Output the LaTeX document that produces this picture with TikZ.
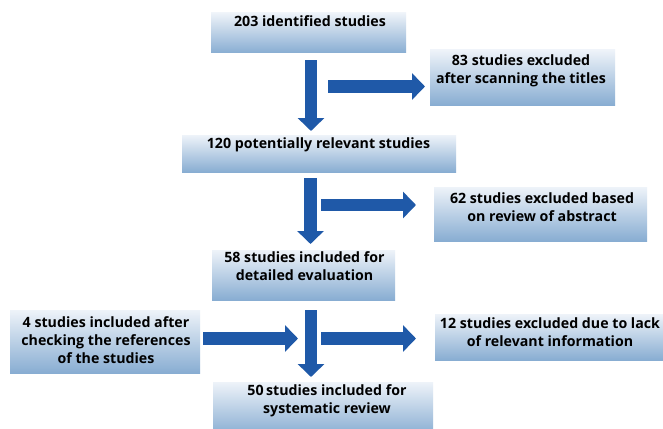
\documentclass[tikz,border=0pt]{standalone}
\usepackage{fontspec}
\setmainfont{Open Sans}
\usetikzlibrary{arrows.meta}
\definecolor{arrowblue}{RGB}{31,89,168}
\definecolor{boxtop}{RGB}{238,243,249}
\definecolor{boxbot}{RGB}{136,173,210}
\tikzset{
  flowbox/.style={rectangle, inner sep=0pt, top color=boxtop, bottom color=boxbot, draw=none},
  flowtxt/.style={inner sep=0pt, align=center, font=\fontsize{14.2}{18}\selectfont\bfseries, text=black},
  bigarrow/.style={draw=arrowblue, line width=12.5pt, -{Triangle[length=13pt,width=26pt]}}
}
\begin{document}
\begin{tikzpicture}[x=1pt,y=-1pt]
\useasboundingbox (0,0) rectangle (663,428);
\fill[white] (0,0) rectangle (663,428);
% boxes
\node[flowbox, minimum width=195pt, minimum height=40pt] (b1) at (308.5,33) {};
\node[flowbox, minimum width=185pt, minimum height=55pt] (b2) at (522.5,77.5) {};
\node[flowbox, minimum width=274pt, minimum height=37pt] (b3) at (319,153.5) {};
\node[flowbox, minimum width=213pt, minimum height=54pt] (b4) at (540.5,214) {};
\node[flowbox, minimum width=183pt, minimum height=50pt] (b5) at (303.5,275) {};
\node[flowbox, minimum width=190pt, minimum height=63pt] (b6) at (105,341.5) {};
\node[flowbox, minimum width=235pt, minimum height=46pt] (b7) at (552.5,337) {};
\node[flowbox, minimum width=220pt, minimum height=53pt] (b8) at (323,408.5) {};
% texts
\node[flowtxt] (t1) at (310,21) {203 identified studies};
\node[flowtxt] (t2) at (521,71) {83 studies excluded\\after scanning the titles};
\node[flowtxt] (t3) at (318.5,145) {120 potentially relevant studies};
\node[flowtxt] (t4) at (542,207) {62 studies excluded based\\on review of abstract};
\node[flowtxt] (t5) at (304.5,266) {58 studies included for\\detailed evaluation};
\node[flowtxt] (t6) at (106,340) {4 studies included after\\checking the references\\of the studies};
\node[flowtxt] (t7) at (550,332.5) {12 studies excluded due to lack\\of relevant information};
\node[flowtxt] (t8) at (327,401) {50\,studies included for\\systematic review};
% arrow end points
\coordinate (v1s) at (311,60);   \coordinate (v1e) at (311,131);
\coordinate (h1s) at (328,86.5); \coordinate (h1e) at (425,86.5);
\coordinate (v2s) at (310.5,178); \coordinate (v2e) at (310.5,244);
\coordinate (h2s) at (321,205);  \coordinate (h2e) at (416,205);
\coordinate (v3s) at (311,310);  \coordinate (v3e) at (311,377);
\coordinate (h3as) at (203,338.5); \coordinate (h3ae) at (298,338.5);
\coordinate (h3bs) at (321,338.5); \coordinate (h3be) at (416,338.5);
% arrows
\draw[bigarrow] (v1s) -- (v1e);
\draw[bigarrow] (h1s) -- (h1e);
\draw[bigarrow] (v2s) -- (v2e);
\draw[bigarrow] (h2s) -- (h2e);
\draw[bigarrow] (v3s) -- (v3e);
\draw[bigarrow] (h3as) -- (h3ae);
\draw[bigarrow] (h3bs) -- (h3be);
\end{tikzpicture}
\end{document}
